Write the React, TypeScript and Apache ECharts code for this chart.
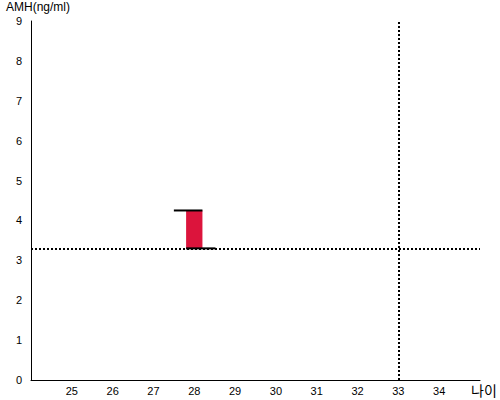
import React, { useEffect, useRef } from "react";
import * as echarts from "echarts";

const xTickLabels = ["25", "26", "27", "28", "29", "30", "31", "32", "33", "34"];
const ranges: [number, number, number][] = [[28, 3.3, 4.25]]; // age, low, high
const refAmh = 3.3;
const refAge = 33;

export default function App() {
  const ref = useRef<HTMLDivElement>(null);
  useEffect(() => {
    const chart = echarts.init(ref.current!, null, { renderer: "svg" });
    const font = "Arial, 'Liberation Sans', sans-serif";
    chart.setOption({
      animation: false,
      grid: { left: 31, right: 20, top: 21, bottom: 20, containLabel: false, outerBoundsMode: "none" },
      xAxis: {
        type: "value",
        min: 24,
        max: 35,
        interval: 1,
        name: "나이",
        nameLocation: "end",
        nameGap: 4,
        nameTextStyle: { color: "#000", fontSize: 14, fontFamily: "'Noto Sans CJK KR', sans-serif", align: "left", verticalAlign: "top", padding: [3, 0, 0, -13] },
        axisLine: { lineStyle: { color: "#000", width: 1 } },
        axisTick: { show: false },
        splitLine: { show: false },
        axisLabel: {
          color: "#000",
          fontSize: 11,
          fontFamily: font,
          margin: 5,
          formatter: (v: number) => (xTickLabels.includes(String(v)) ? String(v) : ""),
        },
      },
      yAxis: {
        type: "value",
        min: 0,
        max: 9,
        interval: 1,
        name: "AMH(ng/ml)",
        nameLocation: "end",
        nameGap: 8,
        nameTextStyle: { color: "#000", fontSize: 12, fontFamily: font, align: "left", padding: [0, 0, 0, -25] },
        axisLine: { show: true, lineStyle: { color: "#000", width: 1 } },
        axisTick: { show: false },
        splitLine: { show: false },
        axisLabel: { color: "#000", fontSize: 11, fontFamily: font, margin: 9 },
      },
      series: [
        {
          type: "custom",
          data: ranges,
          encode: { x: 0, y: [1, 2] },
          renderItem: (params: any, api: any) => {
            const x = api.value(0);
            const lo = api.coord([x, api.value(1)]);
            const hi = api.coord([x, api.value(2)]);
            const unit = api.size([1, 0])[0];
            const w = unit * 0.4;
            return {
              type: "group",
              children: [
                {
                  type: "rect",
                  shape: { x: lo[0] - w / 2, y: hi[1], width: w, height: lo[1] - hi[1] },
                  style: { fill: "#dc143c" },
                },
                {
                  type: "line",
                  shape: { x1: lo[0] - w / 2 - unit * 0.3, y1: hi[1], x2: lo[0] + w / 2, y2: hi[1] },
                  style: { stroke: "#000", lineWidth: 2 },
                },
                {
                  type: "line",
                  shape: { x1: lo[0] - w / 2, y1: lo[1], x2: lo[0] + w / 2 + unit * 0.32, y2: lo[1] },
                  style: { stroke: "#000", lineWidth: 2 },
                },
              ],
            };
          },
          markLine: {
            silent: true,
            symbol: "none",
            label: { show: false },
            lineStyle: { color: "#000", type: [2, 2], width: 2 },
            data: [{ yAxis: refAmh }, { xAxis: refAge }],
          },
        },
      ],
    });
    return () => chart.dispose();
  }, []);
  return <div ref={ref} style={{ width: 500, height: 400, position: "absolute", left: 0, top: 0 }} />;
}
